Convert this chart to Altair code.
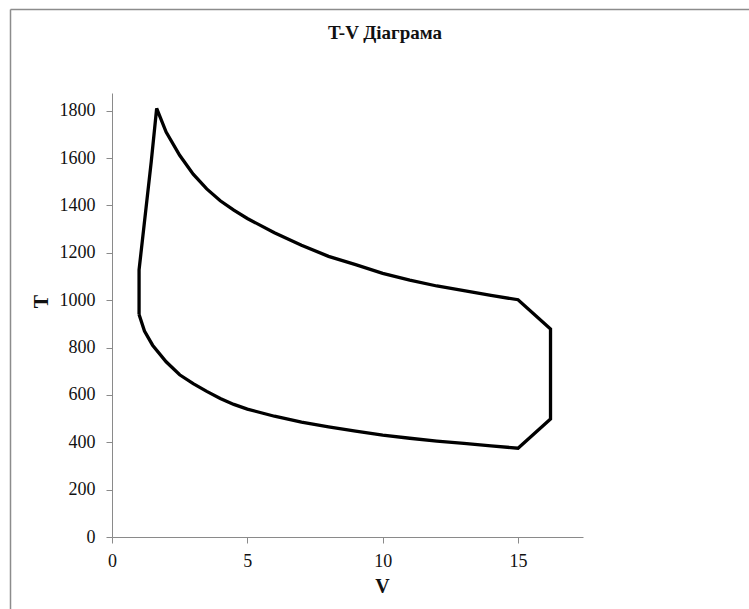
import altair as alt
import pandas as pd

# Cycle path, in drawing order (V, T)
V = [1.0, 1.0, 1.45, 1.65, 2.0, 2.5, 3.0, 3.5, 4.0, 4.5, 5.0, 6.0, 7.0, 8.0, 9.0,
     10.0, 11.0, 12.0, 13.0, 14.0, 15.0, 16.2, 16.2, 15.0, 14.0, 13.0, 12.0, 11.0,
     10.0, 9.0, 8.0, 7.0, 6.0, 5.0, 4.5, 4.0, 3.5, 3.0, 2.5, 2.0, 1.5, 1.2, 1.0]
T = [940, 1128, 1585, 1810, 1710, 1612, 1532, 1470, 1420, 1380, 1345, 1285, 1232,
     1185, 1150, 1113, 1085, 1060, 1040, 1020, 1002, 878, 498, 375, 385, 395, 405,
     417, 430, 447, 465, 485, 510, 540, 560, 585, 615, 648, 685, 740, 810, 870, 940]

x_ticks = [0, 5, 10, 15]
y_ticks = [0, 200, 400, 600, 800, 1000, 1200, 1400, 1600, 1800]
TITLE = "T-V Діаграма"

df = pd.DataFrame({"V": V, "T": T, "i": list(range(len(V)))})
one = pd.DataFrame({"t": [TITLE]})

FONT = "Liberation Serif"

line = alt.Chart(df).mark_line(color="black", strokeWidth=3.3, strokeJoin="miter").encode(
    x=alt.X("V:Q", scale=alt.Scale(domain=[0, 17.4], nice=False, zero=True),
            axis=alt.Axis(values=x_ticks, title="V", grid=False, format="d",
                          labelFlush=False,
                          domainColor="#8a8a8a", tickColor="#8a8a8a", tickSize=6,
                          labelFont=FONT, labelFontSize=18, labelColor="#111",
                          labelPadding=9, titleFont=FONT, titleFontSize=20,
                          titleFontWeight="bold", titleColor="#111",
                          titleX=270, titleY=49, titleBaseline="middle",
                          titleAlign="center")),
    y=alt.Y("T:Q", scale=alt.Scale(domain=[0, 1875], nice=False),
            axis=alt.Axis(values=y_ticks, title="T", grid=False, format="d",
                          labelFlush=False,
                          domainColor="#8a8a8a", tickColor="#8a8a8a", tickSize=6,
                          labelFont=FONT, labelFontSize=18, labelColor="#111",
                          labelPadding=11, titleFont=FONT, titleFontSize=20,
                          titleFontWeight="bold", titleColor="#111",
                          titleX=-71, titleY=208, titleAngle=270,
                          titleBaseline="middle", titleAlign="center")),
    order="i:Q",
)

title = alt.Chart(one).mark_text(
    font=FONT, fontSize=19, fontWeight="bold", color="#111", baseline="middle"
).encode(text="t:N", x=alt.value(273), y=alt.value(-60))

border_left = alt.Chart(one).mark_rule(color="#8c8c8c", strokeWidth=1.5).encode(
    x=alt.value(-101.5), y=alt.value(-83.5), y2=alt.value(520))
border_top = alt.Chart(one).mark_rule(color="#8c8c8c", strokeWidth=1.5).encode(
    x=alt.value(-101.5), x2=alt.value(640), y=alt.value(-83.5))

chart = alt.layer(border_left, border_top, title, line).properties(
    width=471, height=444,
    view=alt.ViewBackground(strokeWidth=0, strokeOpacity=0),
    autosize=alt.AutoSizeParams(type="none"),
    padding={"left": 112, "top": 93, "right": 166, "bottom": 72},
).configure_view(strokeWidth=0, strokeOpacity=0).configure(background="white")

chart.save("out.html", embed_options={"renderer": "svg", "actions": False})
